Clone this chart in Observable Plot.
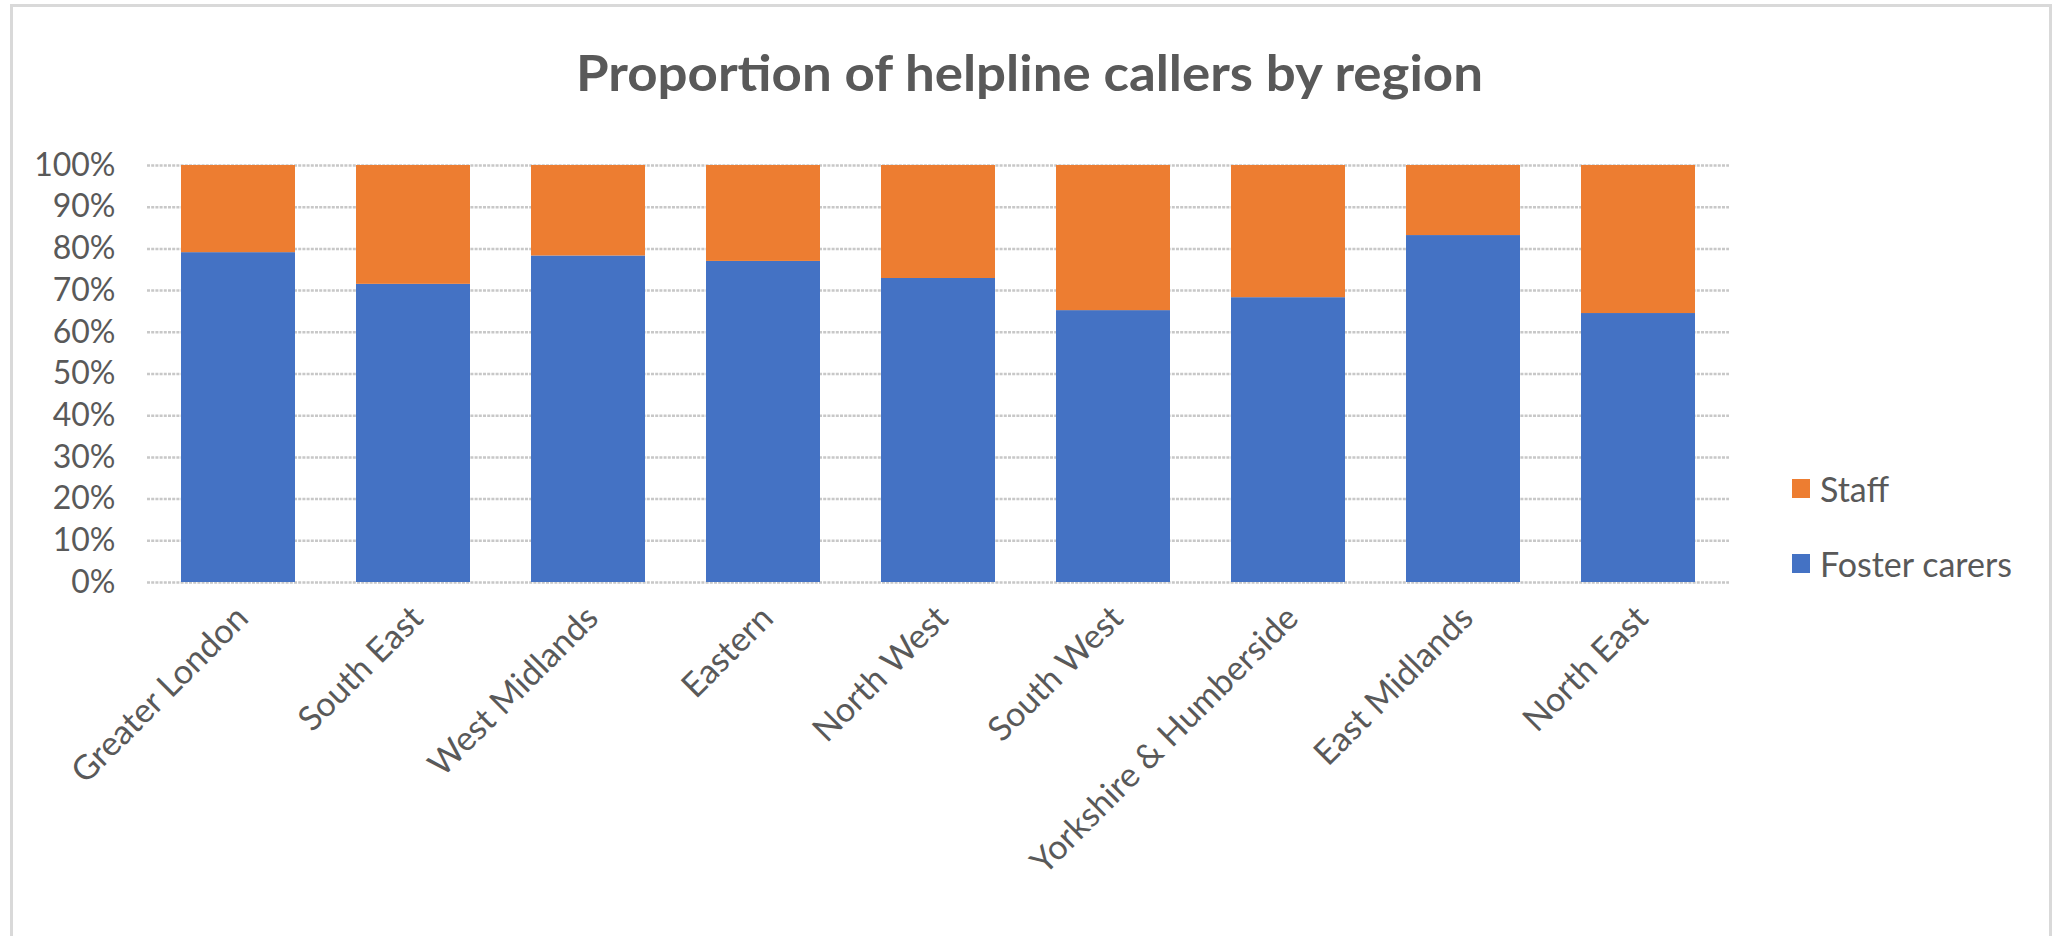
<!DOCTYPE html>
<html>
<head>
<meta charset="utf-8">
<script src="https://cdn.jsdelivr.net/npm/d3@7"></script>
<script src="https://cdn.jsdelivr.net/npm/@observablehq/plot@0.6"></script>
<style>
  html, body { margin: 0; padding: 0; background: #fff; }
  #wrap { position: relative; width: 2060px; height: 936px; overflow: hidden; font-family: Lato, "Open Sans", sans-serif; }
  #frame { position: absolute; left: 10px; top: 4px; width: 2036px; height: 1000px; border: 3px solid #d9d9d9; box-sizing: content-box; }
  #title { position: absolute; left: 0; top: 0; white-space: nowrap; font-weight: 700; font-size: 50px; color: #595959; transform-origin: 0 0; line-height: 1; }
  #chart { position: absolute; left: 0; top: 120px; }
  .leg { position: absolute; display: flex; align-items: center; font-size: 34px; color: #595959; white-space: nowrap; }
  .leg span.sw { display: inline-block; width: 18px; height: 19px; margin-right: 10px; }
</style>
</head>
<body>
<div id="wrap">
  <div id="frame"></div>
  <div id="title">Proportion of helpline callers by region</div>
  <div id="chart"></div>
  <div class="leg" id="legStaff"><span class="sw" style="background:#ED7D31"></span>Staff</div>
  <div class="leg" id="legFoster"><span class="sw" style="background:#4472C4"></span>Foster carers</div>
</div>
<script>
const regions = ["Greater London", "South East", "West Midlands", "Eastern", "North West", "South West", "Yorkshire & Humberside", "East Midlands", "North East"];
const fosterCarers = [79.1, 71.5, 78.3, 77.0, 72.9, 65.2, 68.3, 83.2, 64.5];
const staff = [20.9, 28.5, 21.7, 23.0, 27.1, 34.8, 31.7, 16.8, 35.5];
const seriesNames = ["Foster carers", "Staff"];
const seriesColors = ["#4472C4", "#ED7D31"];
const yTicks = [0, 10, 20, 30, 40, 50, 60, 70, 80, 90, 100];

const rows = [];
regions.forEach((r, i) => {
  rows.push({region: r, series: "Foster carers", value: fosterCarers[i]});
  rows.push({region: r, series: "Staff", value: staff[i]});
});

const chart = Plot.plot({
  width: 2060,
  height: 816,
  marginTop: 45,
  marginBottom: 354,
  marginLeft: 147,
  marginRight: 331,
  style: {fontFamily: "Lato, 'Open Sans', sans-serif", fontSize: "32px", color: "#595959", background: "transparent"},
  x: {domain: regions, paddingInner: 0.35, paddingOuter: 0.175, align: 0.5, label: null},
  y: {domain: [0, 100], label: null},
  color: {domain: seriesNames, range: seriesColors},
  marks: [
    Plot.ruleY(yTicks, {stroke: "#c8c8c8", strokeWidth: 2.5, strokeDasharray: "3,1.2"}),
    Plot.barY(rows, {x: "region", y: "value", fill: "series", order: seriesNames}),
    Plot.axisY(yTicks, {tickSize: 0, tickPadding: 32, tickFormat: d => d + "%", label: null, fill: "#595959", fontSize: 32}),
    Plot.axisX({tickSize: 0, tickPadding: 30, tickRotate: -45, label: null, fill: "#595959", fontSize: 34, dx: 4})
  ]
});
document.getElementById("chart").appendChild(chart);

// fit title to reference width (Calibri-like narrower face)
const title = document.getElementById("title");
const tw = title.getBoundingClientRect().width;
const targetW = 907;
const sx = targetW / tw;
title.style.left = (1029 - targetW / 2) + "px";
title.style.top = "47px";
title.style.transform = `scaleX(${sx})`;

const ls = document.getElementById("legStaff");
ls.style.left = "1792px"; ls.style.top = "468px";
const lf = document.getElementById("legFoster");
lf.style.left = "1792px"; lf.style.top = "543px";
</script>
</body>
</html>
